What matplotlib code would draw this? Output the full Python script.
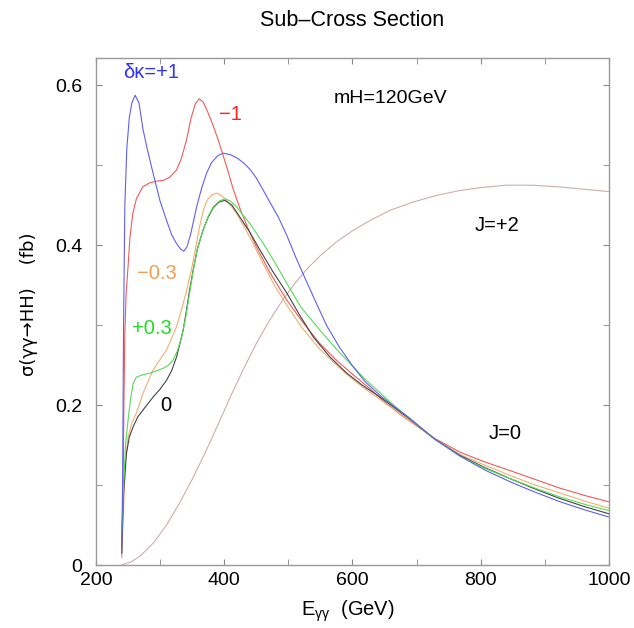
import matplotlib
matplotlib.use("Agg")
import matplotlib.pyplot as plt
from matplotlib.ticker import MultipleLocator

plt.rcParams["font.family"] = ["Liberation Sans", "DejaVu Sans"]
plt.rcParams["mathtext.fontset"] = "custom"
plt.rcParams["mathtext.rm"] = "Liberation Sans"

# delta kappa = +1
e_p1 = [240, 241.5, 243, 245, 248, 252, 256, 261, 267, 273.5, 280, 289, 300, 310, 318,
        325.6, 332, 337, 342, 348, 357, 365, 372.5, 380, 390, 398.5, 410, 420, 430, 440,
        450, 460, 471, 485, 497.7, 512, 528.6, 545, 560, 580, 601, 620, 643, 664, 690, 729,
        768, 806, 846, 885, 924, 962, 1000]
s_p1 = [0.015, 0.1, 0.3, 0.45, 0.52, 0.56, 0.578, 0.5875, 0.578, 0.544, 0.52, 0.49, 0.455,
        0.431, 0.413, 0.402, 0.395, 0.3925, 0.398, 0.415, 0.448, 0.472, 0.49, 0.503, 0.512,
        0.515, 0.513, 0.509, 0.503, 0.495, 0.484, 0.47, 0.454, 0.434, 0.412, 0.384, 0.354,
        0.325, 0.299, 0.272, 0.248, 0.229, 0.212, 0.199, 0.183, 0.157, 0.136, 0.119, 0.104,
        0.091, 0.079, 0.069, 0.06]

# delta kappa = -1
e_m1 = [240, 242, 243.5, 245, 247, 250, 253, 257.5, 263, 273, 284, 294.5, 305, 315, 325.6,
        333, 341, 348, 355, 361, 367, 374, 382, 390, 398, 406, 414, 424, 435, 450, 471, 497,
        523, 549, 575, 601, 625, 650, 675, 700, 729, 768, 806, 846, 885, 924, 962, 1000]
s_m1 = [0.01, 0.08, 0.2, 0.29, 0.34, 0.373, 0.41, 0.44, 0.458, 0.473, 0.478, 0.48, 0.481,
        0.485, 0.494, 0.508, 0.531, 0.558, 0.577, 0.583, 0.579, 0.567, 0.551, 0.533, 0.513,
        0.492, 0.47, 0.447, 0.425, 0.398, 0.366, 0.332, 0.303, 0.277, 0.256, 0.238, 0.222,
        0.204, 0.188, 0.174, 0.158, 0.141, 0.129, 0.118, 0.107, 0.096, 0.087, 0.079]

# delta kappa = -0.3
e_m03 = [240, 243, 246, 250, 256, 263, 273.5, 289, 310, 325.6, 333, 341, 349, 355, 362, 368,
         374, 381, 388, 396, 405, 419, 432, 445, 460, 478, 497.7, 520, 549, 575, 601, 620,
         643, 690, 729, 768, 806, 846, 885, 924, 962, 1000]
s_m03 = [0.01, 0.07, 0.13, 0.16, 0.178, 0.19, 0.215, 0.244, 0.269, 0.298, 0.318, 0.342,
         0.37, 0.395, 0.425, 0.445, 0.457, 0.463, 0.465, 0.462, 0.455, 0.44, 0.422, 0.402,
         0.378, 0.35, 0.325, 0.298, 0.27, 0.25, 0.232, 0.22, 0.207, 0.18, 0.157, 0.138,
         0.125, 0.112, 0.1, 0.09, 0.08, 0.071]

# delta kappa = 0
e_0 = [240, 243, 247.6, 252, 258, 265, 273.5, 289, 300, 310, 318, 325.6, 330, 336, 341, 346,
       351.6, 358, 367, 375, 383, 392, 401, 412, 424.5, 440, 455.7, 475, 497.7, 518, 539, 565,
       591, 615, 643, 690, 729, 768, 806, 846, 885, 924, 962, 1000]
s_0 = [0.015, 0.09, 0.14, 0.16, 0.173, 0.185, 0.194, 0.21, 0.22, 0.231, 0.243, 0.26, 0.274,
       0.294, 0.318, 0.344, 0.369, 0.395, 0.419, 0.435, 0.447, 0.454, 0.456, 0.45, 0.435,
       0.416, 0.394, 0.368, 0.34, 0.312, 0.285, 0.26, 0.24, 0.225, 0.21, 0.182, 0.157, 0.137,
       0.122, 0.108, 0.095, 0.083, 0.073, 0.064]

# delta kappa = +0.3
e_p03 = [240, 243, 246, 250, 254, 258, 263, 273, 284, 295, 305, 313, 320, 327, 333.5, 340,
         346, 352, 358, 367, 375, 383, 392, 401, 410, 419, 440, 461, 480, 497.7, 520, 549,
         575, 601, 620, 638, 664, 690, 729, 768, 806, 846, 885, 924, 962, 1000]
s_p03 = [0.04, 0.1, 0.15, 0.181, 0.208, 0.227, 0.235, 0.238, 0.24, 0.243, 0.246, 0.25, 0.256,
         0.268, 0.285, 0.31, 0.34, 0.37, 0.395, 0.419, 0.436, 0.448, 0.455, 0.458, 0.455,
         0.448, 0.427, 0.402, 0.377, 0.352, 0.322, 0.294, 0.27, 0.248, 0.232, 0.219, 0.2,
         0.183, 0.157, 0.136, 0.121, 0.108, 0.096, 0.085, 0.076, 0.068]

# J = +2
e_j2 = [240, 255, 270, 290, 310, 330, 350, 370, 390, 410, 430, 450, 470, 490, 510, 530, 550,
        575, 600, 630, 660, 695, 730, 765, 800, 840, 880, 920, 960, 1000]
s_j2 = [0.0, 0.004, 0.012, 0.028, 0.05, 0.077, 0.107, 0.14, 0.175, 0.211, 0.245, 0.277,
        0.305, 0.33, 0.352, 0.371, 0.387, 0.404, 0.418, 0.432, 0.444, 0.454, 0.462, 0.468,
        0.472, 0.475, 0.475, 0.473, 0.47, 0.467]

fig = plt.figure(figsize=(6.34, 6.28), dpi=100)
ax = fig.add_axes([0.1514, 0.1003, 0.8091, 0.8073])

lw = 0.8
ax.plot(e_j2, s_j2, color="#cfadad", lw=lw)
ax.plot(e_m1, s_m1, color="#f05a5a", lw=lw)
ax.plot(e_m03, s_m03, color="#f0b070", lw=lw)
ax.plot(e_0, s_0, color="#444444", lw=lw)
ax.plot(e_p03, s_p03, color="#55dd55", lw=lw)
ax.plot(e_p1, s_p1, color="#6060ee", lw=lw)

ax.set_xlim(200, 1000)
ax.set_ylim(0, 0.634)
ax.xaxis.set_major_locator(MultipleLocator(200))
ax.xaxis.set_minor_locator(MultipleLocator(100))
ax.yaxis.set_minor_locator(MultipleLocator(0.1))
ax.set_yticks([0, 0.2, 0.4, 0.6])
ax.set_yticklabels(["0", "0.2", "0.4", "0.6"])
ax.tick_params(which="both", direction="in", top=True, right=True, length=4,
               color="#888888", labelsize=14)
ax.tick_params(axis="x", pad=5)
ax.tick_params(axis="y", pad=10)
for sp in ax.spines.values():
    sp.set_color("#999999")
    sp.set_linewidth(1.0)

fs = 14.5
ax.text(286, 0.616, "δκ=+1", color="#3030ff", fontsize=fs, ha="center", va="center")
ax.text(409, 0.564, "−1", color="#ff2020", fontsize=fs, ha="center", va="center")
ax.text(659, 0.584, "mH=120GeV", color="black", fontsize=14, ha="center", va="center")
ax.text(295, 0.364, "−0.3", color="#f0a050", fontsize=fs, ha="center", va="center")
ax.text(287, 0.296, "+0.3", color="#20dd20", fontsize=fs, ha="center", va="center")
ax.text(309, 0.2, "0", color="black", fontsize=fs, ha="center", va="center")
ax.text(826, 0.424, "J=+2", color="black", fontsize=fs, ha="center", va="center")
ax.text(838, 0.165, "J=0", color="black", fontsize=fs, ha="center", va="center")

fig.text(0.555, 0.967, "Sub\u2013Cross Section", fontsize=15.5, ha="center", va="center")
fig.text(0.045, 0.515, "σ(γγ→HH)    (fb)", fontsize=13, rotation=90, ha="center",
         va="center", family=["DejaVu Sans"])
fig.text(0.548, 0.027, r"E$_{\mathregular{γγ}}$  (GeV)", fontsize=14.5, ha="center",
         va="center")

fig.savefig("out.png", dpi=100)
